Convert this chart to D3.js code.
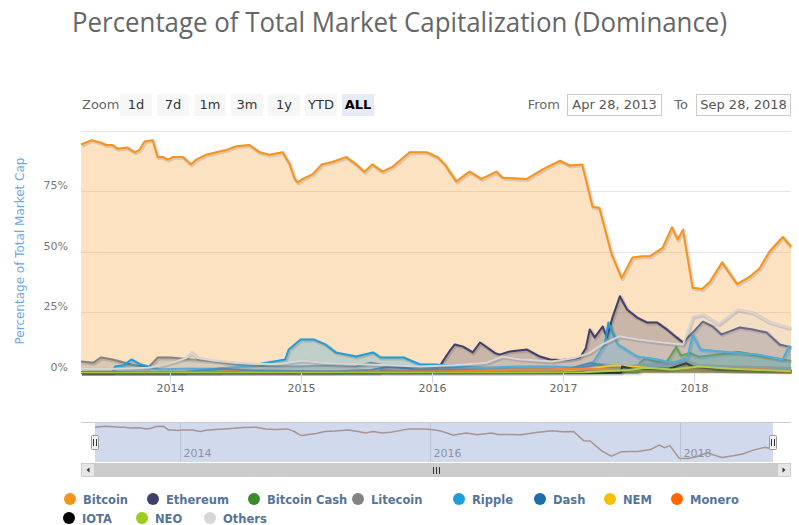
<!DOCTYPE html>
<html><head><meta charset="utf-8">
<script src="https://cdn.jsdelivr.net/npm/d3@7"></script>
<style>body{margin:0;background:#fff}svg{display:block}</style>
</head><body><svg id="c" width="799" height="525"></svg>
<script>
// ---------------- DATA ----------------
const seriesNames = ["Bitcoin","Ethereum","Bitcoin Cash","Litecoin","Ripple","Dash","NEM","Monero","IOTA","NEO","Others"];
const seriesColors = ["#f7931a","#3f3f6b","#3b8a2c","#838383","#1e9fdc","#1c6fae","#f5c000","#ff6600","#000000","#9acd1f","#d6d6d6"];

const bitcoin = [["2013-04-28",94.2],["2013-05-28",96],["2013-06-22",95],["2013-07-07",94],["2013-07-24",94],["2013-08-08",92.5],["2013-09-03",93],["2013-09-25",91],["2013-10-08",92],["2013-10-22",95.5],["2013-11-14",96],["2013-11-28",89],["2013-12-12",89],["2013-12-26",88],["2014-01-09",89],["2014-02-06",89],["2014-03-01",86],["2014-03-15",88],["2014-04-12",90],["2014-05-10",91],["2014-06-07",92],["2014-07-05",93.5],["2014-08-10",94],["2014-09-08",91],["2014-10-05",90],["2014-11-11",91],["2014-12-01",86],["2014-12-15",80],["2014-12-23",78.5],["2015-01-06",80],["2015-02-03",82],["2015-02-28",86],["2015-03-29",87],["2015-05-07",89],["2015-06-04",86],["2015-06-27",83],["2015-07-19",86],["2015-08-16",83],["2015-09-13",85],["2015-10-31",91],["2015-12-17",91],["2016-01-17",89],["2016-02-06",86],["2016-03-09",79],["2016-04-15",83],["2016-05-18",80],["2016-06-29",83],["2016-07-16",80.5],["2016-09-22",80],["2016-11-06",84],["2016-12-23",87.5],["2017-01-20",85.5],["2017-02-23",86],["2017-03-24",68.5],["2017-04-12",68],["2017-05-16",49],["2017-06-13",39],["2017-07-13",47.5],["2017-08-10",48],["2017-08-30",48],["2017-10-05",51.5],["2017-10-31",60],["2017-11-16",55],["2017-12-01",59],["2017-12-28",35],["2018-01-23",34.5],["2018-02-14",37.5],["2018-03-20",45.5],["2018-05-01",36.5],["2018-06-04",39.5],["2018-07-02",43],["2018-07-30",50],["2018-09-05",56],["2018-09-28",52]];

const ethereum = [["2013-04-28",0],["2015-08-07",0],["2015-08-10",0.8],["2015-10-15",0.5],["2015-12-20",0.8],["2016-01-20",1.8],["2016-01-31",4.5],["2016-02-20",9],["2016-03-05",11.6],["2016-03-28",10.7],["2016-04-24",8.3],["2016-05-14",12.4],["2016-06-11",9.5],["2016-06-25",8],["2016-07-08",7.4],["2016-08-05",8.7],["2016-09-22",9.5],["2016-10-28",6.6],["2016-11-25",5.4],["2016-12-23",5.2],["2017-01-20",5.4],["2017-02-17",6.2],["2017-03-05",10],["2017-03-16",17.8],["2017-03-30",14.5],["2017-04-21",19],["2017-05-03",14.5],["2017-05-19",23],["2017-06-08",31.5],["2017-06-28",26],["2017-07-26",22.7],["2017-08-22",20.7],["2017-09-19",20.7],["2017-10-17",17.8],["2017-11-13",14.5],["2017-12-01",12.4],["2017-12-28",16.5],["2018-01-25",21],["2018-02-22",19],["2018-03-18",15.7],["2018-04-10",17],["2018-05-08",18.6],["2018-06-13",17.8],["2018-07-22",16.5],["2018-08-27",11.6],["2018-09-20",10.7],["2018-09-28",10.5]];

const bitcoinCash = [["2013-04-28",0],["2017-07-31",0],["2017-08-02",4],["2017-08-20",6],["2017-09-15",4.5],["2017-10-15",4],["2017-11-12",10.5],["2017-11-25",7],["2017-12-20",8],["2018-01-15",6.5],["2018-03-15",7.5],["2018-05-05",8.5],["2018-07-15",6.5],["2018-09-28",4.8]];

const litecoin = [["2013-04-28",4.5],["2013-06-01",4],["2013-06-22",6.2],["2013-07-24",5.4],["2013-09-15",3.3],["2013-11-01",2],["2013-11-28",6.2],["2014-01-01",6.2],["2014-03-01",5.4],["2014-05-10",4.5],["2014-07-05",3.3],["2014-10-01",2.5],["2014-12-15",2.5],["2015-03-01",2.8],["2015-06-01",2.3],["2015-07-15",4],["2015-09-01",2.5],["2015-12-01",2],["2016-03-01",2],["2016-06-01",2],["2016-09-01",1.7],["2016-12-01",1.5],["2017-03-01",2],["2017-04-15",3.5],["2017-06-15",2.5],["2017-09-01",3.5],["2017-12-15",4.5],["2018-01-15",3],["2018-04-15",2.5],["2018-09-28",1.9]];

const ripple = [["2013-04-28",0],["2013-07-25",0],["2013-08-01",2.5],["2013-08-25",3],["2013-09-15",5.4],["2013-10-12",3.3],["2013-11-14",2],["2013-12-05",1.2],["2014-02-01",1.5],["2014-05-01",1.5],["2014-08-01",2.5],["2014-11-18",5.4],["2014-11-28",9.5],["2014-12-31",13.6],["2015-02-06",13.6],["2015-03-10",11.6],["2015-04-08",8.3],["2015-06-04",6.6],["2015-07-21",8.3],["2015-08-11",6.2],["2015-10-14",6.2],["2015-11-29",3.3],["2016-01-12",3.3],["2016-03-01",2.5],["2016-06-01",2],["2016-09-01",2.5],["2016-12-01",2.5],["2017-02-17",2],["2017-03-24",4],["2017-04-27",11.6],["2017-05-07",20.7],["2017-05-15",17.8],["2017-06-02",11.6],["2017-07-26",6.6],["2017-09-19",5.4],["2017-11-03",4],["2017-12-13",6],["2017-12-28",15.7],["2018-01-19",9.5],["2018-03-15",8.7],["2018-06-26",7.4],["2018-09-05",5.4],["2018-09-22",10.7],["2018-09-28",10.5]];

const dash = [["2013-04-28",0],["2014-02-10",0],["2014-02-15",0.3],["2014-05-20",1.5],["2014-08-15",0.8],["2014-12-15",0.6],["2015-04-15",0.5],["2015-07-15",1],["2015-09-10",2.5],["2015-11-15",1.2],["2016-02-15",1],["2016-06-15",1],["2016-10-15",0.9],["2017-01-15",1.5],["2017-03-20",4],["2017-05-15",2],["2017-08-15",2],["2017-11-15",2],["2018-01-15",1.2],["2018-05-15",0.9],["2018-09-28",0.8]];

const nem = [["2013-04-28",0],["2015-03-31",0],["2015-04-01",0.1],["2016-06-01",0.2],["2017-01-01",0.5],["2017-03-01",1.5],["2017-05-25",3],["2017-07-15",2.5],["2017-10-15",1.2],["2018-01-10",2.5],["2018-04-15",0.8],["2018-09-28",0.4]];

const monero = [["2013-04-28",0],["2014-05-20",0],["2014-05-25",0.5],["2014-09-15",0.2],["2015-06-15",0.3],["2016-03-01",0.5],["2016-08-25",1.2],["2016-11-15",1.2],["2016-12-30",1.5],["2017-03-15",1.5],["2017-06-15",1],["2017-09-15",1.3],["2018-01-15",1.3],["2018-05-15",1.5],["2018-09-28",0.95]];

const iota = [["2013-04-28",0],["2017-06-12",0],["2017-06-14",2.5],["2017-07-15",1.5],["2017-10-15",1.2],["2017-12-10",3.8],["2017-12-28",2.5],["2018-03-15",1],["2018-09-28",0.6]];

const neo = [["2013-04-28",0],["2016-09-01",0],["2017-03-01",0.1],["2017-07-01",1],["2017-08-20",2],["2017-11-01",1.2],["2018-01-15",2.5],["2018-04-15",1.5],["2018-09-28",0.5]];

const others = [["2013-04-28",1.5],["2013-08-01",1.5],["2013-11-01",2],["2013-12-10",3],["2014-01-15",4.5],["2014-02-15",6],["2014-03-01",8.3],["2014-03-20",6],["2014-05-01",5],["2014-07-01",4],["2014-09-01",3.5],["2014-11-01",3.5],["2015-01-05",5],["2015-03-01",4],["2015-06-01",3.5],["2015-09-01",3],["2015-12-01",2.5],["2016-03-01",3],["2016-06-01",4],["2016-07-15",6.6],["2016-09-01",5.5],["2016-12-01",4.5],["2017-02-01",6],["2017-03-15",8],["2017-04-20",11.6],["2017-06-08",15],["2017-07-30",13.6],["2017-10-05",12.4],["2017-12-01",11.6],["2017-12-28",23],["2018-01-25",24],["2018-03-10",20],["2018-05-01",26],["2018-06-13",24.8],["2018-08-01",20.7],["2018-09-20",18.6],["2018-09-28",18.5]];

const yTicks = [0,25,50,75];
const xTickYears = ["2014","2015","2016","2017","2018"];
const navTickYears = ["2014","2016","2018"];
const zoomButtons = ["1d","7d","1m","3m","1y","YTD","ALL"];
const fromDate = "Apr 28, 2013", toDate = "Sep 28, 2018";
const startDate = "2013-04-28", endDate = "2018-09-28";

// ---------------- CHART ----------------
const allSeries = [bitcoin,ethereum,bitcoinCash,litecoin,ripple,dash,nem,monero,iota,neo,others];
const parse = d3.utcParse("%Y-%m-%d");
const svg = d3.select("#c");
const FONT = "'DejaVu Sans', Verdana, sans-serif";

const x = d3.scaleUtc().domain([parse(startDate), parse(endDate)]).range([81, 791]);
const y = d3.scaleLinear().domain([0, 100]).range([372.5, 130.5]);

// title
svg.append("text").attr("x", 399.5).attr("y", 32).attr("text-anchor","middle")
  .attr("font-family","'Liberation Sans Narrow','Open Sans',sans-serif").attr("font-size",28)
  .attr("fill","#666").attr("textLength",655).attr("lengthAdjust","spacingAndGlyphs")
  .text("Percentage of Total Market Capitalization (Dominance)");

// range selector
svg.append("text").attr("x",82).attr("y",109).attr("font-family",FONT).attr("font-size",13).attr("fill","#666").text("Zoom");
const btnG = svg.append("g");
zoomButtons.forEach((b,i)=>{
  const bx = 120 + i*37;
  const isAll = b === "ALL";
  btnG.append("rect").attr("x",bx).attr("y",94).attr("width",32).attr("height",22)
    .attr("fill", isAll ? "#e6ebf5" : "#f7f7f7");
  btnG.append("text").attr("x",bx+16).attr("y",109).attr("text-anchor","middle")
    .attr("font-family",FONT).attr("font-size",13).attr("font-weight",isAll?"bold":"normal")
    .attr("fill", isAll ? "#000" : "#333").text(b);
});
svg.append("text").attr("x",560).attr("y",109).attr("text-anchor","end").attr("font-family",FONT).attr("font-size",13).attr("fill","#666").text("From");
svg.append("rect").attr("x",567.5).attr("y",94.5).attr("width",94).attr("height",21).attr("fill","#fff").attr("stroke","#ccc");
svg.append("text").attr("x",614.5).attr("y",109).attr("text-anchor","middle").attr("font-family",FONT).attr("font-size",13).attr("fill","#555").text(fromDate);
svg.append("text").attr("x",688).attr("y",109).attr("text-anchor","end").attr("font-family",FONT).attr("font-size",13).attr("fill","#666").text("To");
svg.append("rect").attr("x",696.5).attr("y",94.5).attr("width",94).attr("height",21).attr("fill","#fff").attr("stroke","#ccc");
svg.append("text").attr("x",743.5).attr("y",109).attr("text-anchor","middle").attr("font-family",FONT).attr("font-size",13).attr("fill","#555").text(toDate);

// grid
const grid = svg.append("g");
[0,25,50,75,100].forEach(t=>{
  grid.append("line").attr("x1",81).attr("x2",791).attr("y1",Math.round(y(t))+0.5).attr("y2",Math.round(y(t))+0.5)
    .attr("stroke","#e6e6e6");
});

// series
const area = d3.area().x(d=>x(parse(d[0]))).y0(y(0)).y1(d=>y(d[1]));
const line = d3.line().x(d=>x(parse(d[0]))).y(d=>y(d[1]));
const plot = svg.append("g");
allSeries.forEach((s,i)=>{
  const g = plot.append("g");
  g.append("path").attr("d",area(s)).attr("fill",seriesColors[i]).attr("fill-opacity",0.27);
  g.append("path").attr("d",line(s)).attr("fill","none").attr("stroke","#000").attr("stroke-opacity",0.12)
    .attr("stroke-width",4).attr("transform","translate(1,1)").attr("stroke-linejoin","round");
  g.append("path").attr("d",line(s)).attr("fill","none").attr("stroke",seriesColors[i])
    .attr("stroke-width",2).attr("stroke-linejoin","round");
});

// y axis labels
yTicks.forEach(t=>{
  svg.append("text").attr("x",68).attr("y",y(t)-2).attr("text-anchor","end")
    .attr("font-family",FONT).attr("font-size",11).attr("fill","#777").text(t+"%");
});
svg.append("text").attr("transform","translate(24,251) rotate(-90)").attr("text-anchor","middle")
  .attr("font-family",FONT).attr("font-size",12).attr("fill","#6fa8dc").text("Percentage of Total Market Cap");

// x axis
xTickYears.forEach(yr=>{
  const tx = Math.round(x(parse(yr+"-01-01")))+0.5;
  svg.append("line").attr("x1",tx).attr("x2",tx).attr("y1",373).attr("y2",383).attr("stroke","#ccd6eb");
  svg.append("text").attr("x",tx).attr("y",392).attr("text-anchor","middle")
    .attr("font-family",FONT).attr("font-size",11).attr("fill","#666").text(yr);
});

// navigator
const nx = d3.scaleUtc().domain([parse(startDate), parse(endDate)]).range([95, 773]);
const ny = d3.scaleLinear().domain([33.5, 96.5]).range([459, 426]);
const nav = svg.append("g");
nav.append("line").attr("x1",81).attr("x2",791).attr("y1",422.5).attr("y2",422.5).attr("stroke","#ccc");
navTickYears.forEach(yr=>{
  const tx = Math.round(nx(parse(yr+"-01-01")))+0.5;
  nav.append("line").attr("x1",tx).attr("x2",tx).attr("y1",423).attr("y2",462).attr("stroke","#e0e0e0");
  nav.append("text").attr("x",tx+3).attr("y",457).attr("font-family",FONT).attr("font-size",11).attr("fill","#999").text(yr);
});
nav.append("path").attr("d",d3.line().x(d=>nx(parse(d[0]))).y(d=>ny(d[1]))(bitcoin))
  .attr("fill","none").attr("stroke","#c39a7c").attr("stroke-width",1.5);
nav.append("rect").attr("x",95).attr("y",423).attr("width",678).attr("height",39).attr("fill","rgba(102,133,194,0.3)");
[95,773].forEach(hx=>{
  nav.append("rect").attr("x",hx-3.5).attr("y",435.5).attr("width",7).attr("height",14).attr("rx",1)
    .attr("fill","#f2f2f2").attr("stroke","#999");
  nav.append("line").attr("x1",hx-1.5).attr("x2",hx-1.5).attr("y1",439).attr("y2",446).attr("stroke","#333");
  nav.append("line").attr("x1",hx+1.5).attr("x2",hx+1.5).attr("y1",439).attr("y2",446).attr("stroke","#333");
});
// scrollbar
nav.append("rect").attr("x",81).attr("y",463).attr("width",710).attr("height",14).attr("fill","#f2f2f2");
nav.append("rect").attr("x",95).attr("y",463).attr("width",682).attr("height",14).attr("fill","#cccccc");
[[81,"L"],[777,"R"]].forEach(([bx,d])=>{
  nav.append("rect").attr("x",bx+0.5).attr("y",463.5).attr("width",13).attr("height",13).attr("fill","#e6e6e6").attr("stroke","#ccc");
  const cx = bx+7, cy = 470;
  const p = d==="L" ? `M${cx+1.5},${cy-2.5}L${cx-1.5},${cy}L${cx+1.5},${cy+2.5}Z` : `M${cx-1.5},${cy-2.5}L${cx+1.5},${cy}L${cx-1.5},${cy+2.5}Z`;
  nav.append("path").attr("d",p).attr("fill","#333");
});
[-3,0,3].forEach(o=>{
  nav.append("line").attr("x1",436+o+0.5).attr("x2",436+o+0.5).attr("y1",467).attr("y2",474).attr("stroke","#333");
});

// legend
const legendRows = [[0,1,2,3,4,5,6,7],[8,9,10]];
const legendX = [[70,153,254,358,459,540,610,677],[69,142,210]];
const legendY = [499,518];
legendRows.forEach((row,r)=>{
  row.forEach((si,k)=>{
    const cx = legendX[r][k];
    svg.append("circle").attr("cx",cx).attr("cy",legendY[r]).attr("r",6).attr("fill",seriesColors[si]);
    svg.append("text").attr("x",cx+13).attr("y",legendY[r]+4.5).attr("font-family",FONT)
      .attr("font-size",11.5).attr("font-weight","bold").attr("fill","#55749a").text(seriesNames[si]);
  });
});
</script>
</body></html>
